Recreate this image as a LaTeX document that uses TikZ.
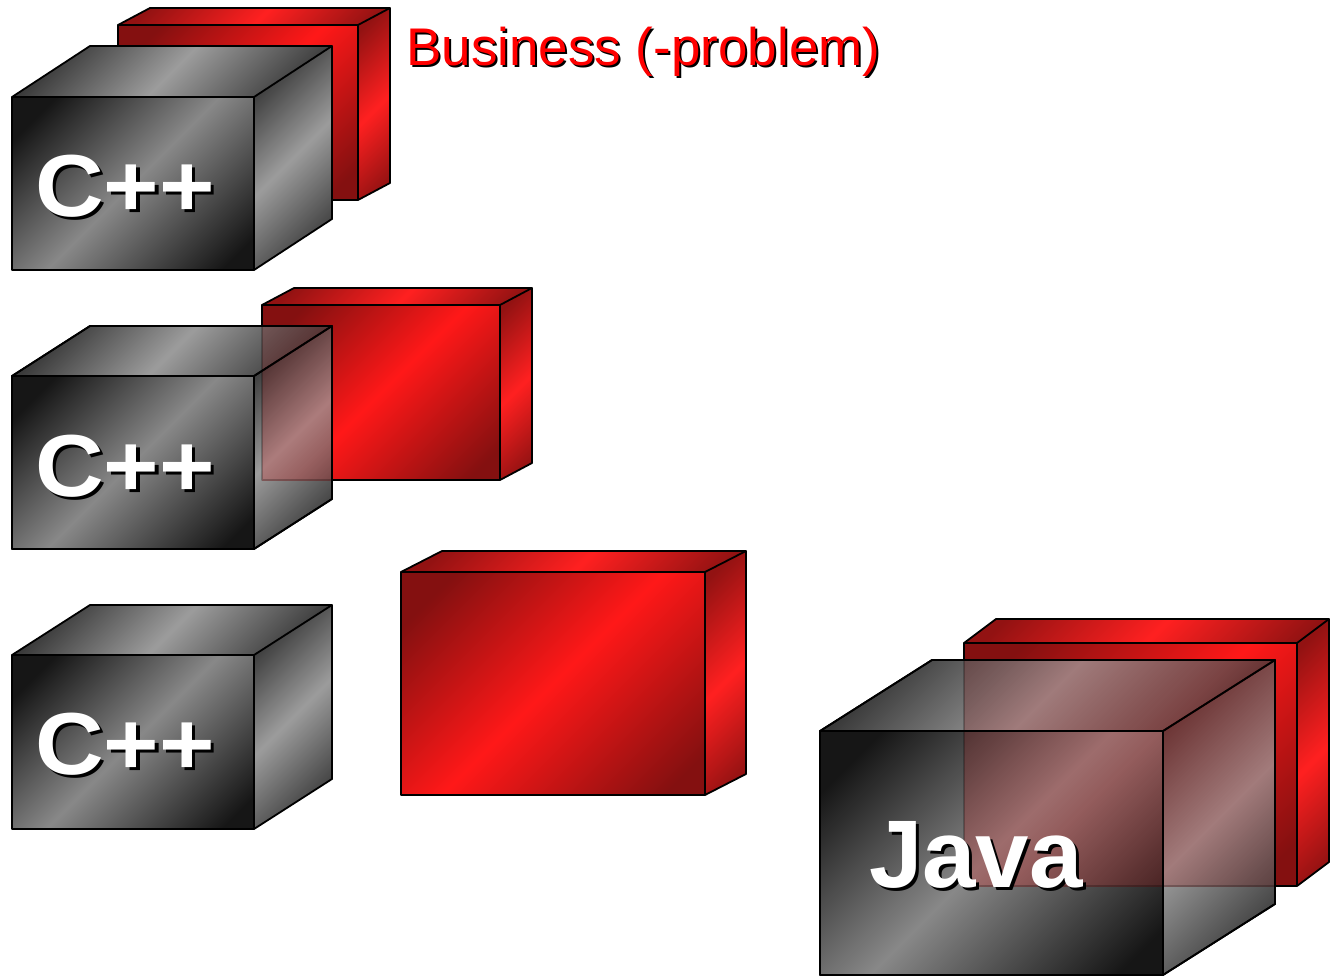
\documentclass[tikz,border=0pt]{standalone}
\usepackage{fontspec}
\setmainfont{Liberation Sans}

\definecolor{gDark}{HTML}{161616}
\definecolor{gLight}{HTML}{888888}
\definecolor{gSideDark}{HTML}{2E2E2E}
\definecolor{gSideLight}{HTML}{9C9C9C}
\definecolor{rDark}{HTML}{841010}
\definecolor{rLight}{HTML}{FF1818}
\definecolor{rSideDark}{HTML}{921212}
\definecolor{rSideLight}{HTML}{FF2020}
\definecolor{bizred}{HTML}{FF0000}

\pgfdeclarehorizontalshading{grayfront}{100bp}{color(0bp)=(gDark); color(22bp)=(gDark); color(50bp)=(gLight); color(80bp)=(gDark); color(100bp)=(gDark)}
\pgfdeclarehorizontalshading{grayside}{100bp}{color(0bp)=(gSideDark); color(22bp)=(gSideDark); color(50bp)=(gSideLight); color(80bp)=(gSideDark); color(100bp)=(gSideDark)}
\pgfdeclarehorizontalshading{redfront}{100bp}{color(0bp)=(rDark); color(22bp)=(rDark); color(50bp)=(rLight); color(80bp)=(rDark); color(100bp)=(rDark)}
\pgfdeclarehorizontalshading{redside}{100bp}{color(0bp)=(rSideDark); color(22bp)=(rSideDark); color(52bp)=(rSideLight); color(80bp)=(rSideDark); color(100bp)=(rSideDark)}

\tikzset{
  edge/.style={draw=black, line width=1.8pt, line join=round},
  bigtext/.style={font=\fontsize{88}{100}\selectfont\bfseries, inner sep=0pt, anchor=base west, xscale=1.08, text=white},
  javatext/.style={font=\fontsize{96}{110}\selectfont\bfseries, inner sep=0pt, anchor=base west, text=white},
  biztext/.style={font=\fontsize{53}{60}\selectfont, inner sep=0pt, anchor=base west, text=bizred},
}
% text with a black drop shadow, in one node
\newcommand\shadowed[2]{\rlap{\kern#1\raisebox{-#1}{\textcolor{black}{#2}}}#2}

% #1 x1  #2 y1  #3 x2  #4 y2  #5 dx  #6 dy  #7 family (gray/red)
\newcommand\mycube[7]{%
  \shade[shading=#7front, shading angle=-45] (#1,#2) rectangle (#3,#4);
  \shade[shading=#7side, shading angle=-45] (#1,#2) -- ({#1+#5},{#2+#6}) -- ({#3+#5},{#2+#6}) -- (#3,#2) -- cycle;
  \shade[shading=#7side, shading angle=-45] (#3,#2) -- ({#3+#5},{#2+#6}) -- ({#3+#5},{#4+#6}) -- (#3,#4) -- cycle;
  \path[edge] (#1,#2) rectangle (#3,#4);
  \path[edge] (#1,#2) -- ({#1+#5},{#2+#6}) -- ({#3+#5},{#2+#6}) -- (#3,#2);
  \path[edge] ({#3+#5},{#2+#6}) -- ({#3+#5},{#4+#6}) -- (#3,#4);
}
% red front face seen through a gray cube: #1..#6 gray cube, #7 red front face rectangle
\newcommand\mytint[7]{%
  \begin{scope}
    \clip (#1,#4) -- (#1,#2) -- ({#1+#5},{#2+#6}) -- ({#3+#5},{#2+#6}) -- ({#3+#5},{#4+#6}) -- (#3,#4) -- cycle;
    \begin{scope}[opacity=0.24]
      \shade[shading=redfront, shading angle=-45] #7;
      \path[edge] #7;
    \end{scope}
  \end{scope}
  \path[edge] (#1,#2) rectangle (#3,#4);
  \path[edge] (#1,#2) -- ({#1+#5},{#2+#6}) -- ({#3+#5},{#2+#6}) -- (#3,#2);
  \path[edge] ({#3+#5},{#2+#6}) -- ({#3+#5},{#4+#6}) -- (#3,#4);
}

\begin{document}
\begin{tikzpicture}[x=1pt,y=-1pt]
  \fill[white] (0,0) rectangle (1330,977);
  \useasboundingbox (0,0) rectangle (1330,977);

  % row 1
  \mycube{118}{25}{358}{200}{32}{-17}{red}
  \mycube{12}{97}{254}{270}{78}{-51}{gray}
  % row 2
  \mycube{262}{305}{500}{480}{32}{-17}{red}
  \mycube{12}{376}{254}{549}{78}{-50}{gray}
  \mytint{12}{376}{254}{549}{78}{-50}{(262,305) rectangle (500,480)}
  % row 3
  \mycube{12}{655}{254}{829}{78}{-50}{gray}
  \mycube{401}{572}{705}{795}{41}{-21}{red}
  % java
  \mycube{964}{643}{1297}{886}{32}{-24}{red}
  \mycube{820}{731}{1163}{975}{112}{-71}{gray}
  \mytint{820}{731}{1163}{975}{112}{-71}{(964,643) rectangle (1297,886)}

  % labels
  \node[biztext] (biz) at (406,65) {\shadowed{2pt}{Business (-problem)}};

  \node[bigtext] (c1) at (35,216) {\shadowed{3pt}{C++}};
  \node[bigtext] (c2) at (35,496) {\shadowed{3pt}{C++}};
  \node[bigtext] (c3) at (35,774) {\shadowed{3pt}{C++}};

  \node[javatext] (java) at (869,887) {\shadowed{3pt}{Java}};
\end{tikzpicture}
\end{document}
